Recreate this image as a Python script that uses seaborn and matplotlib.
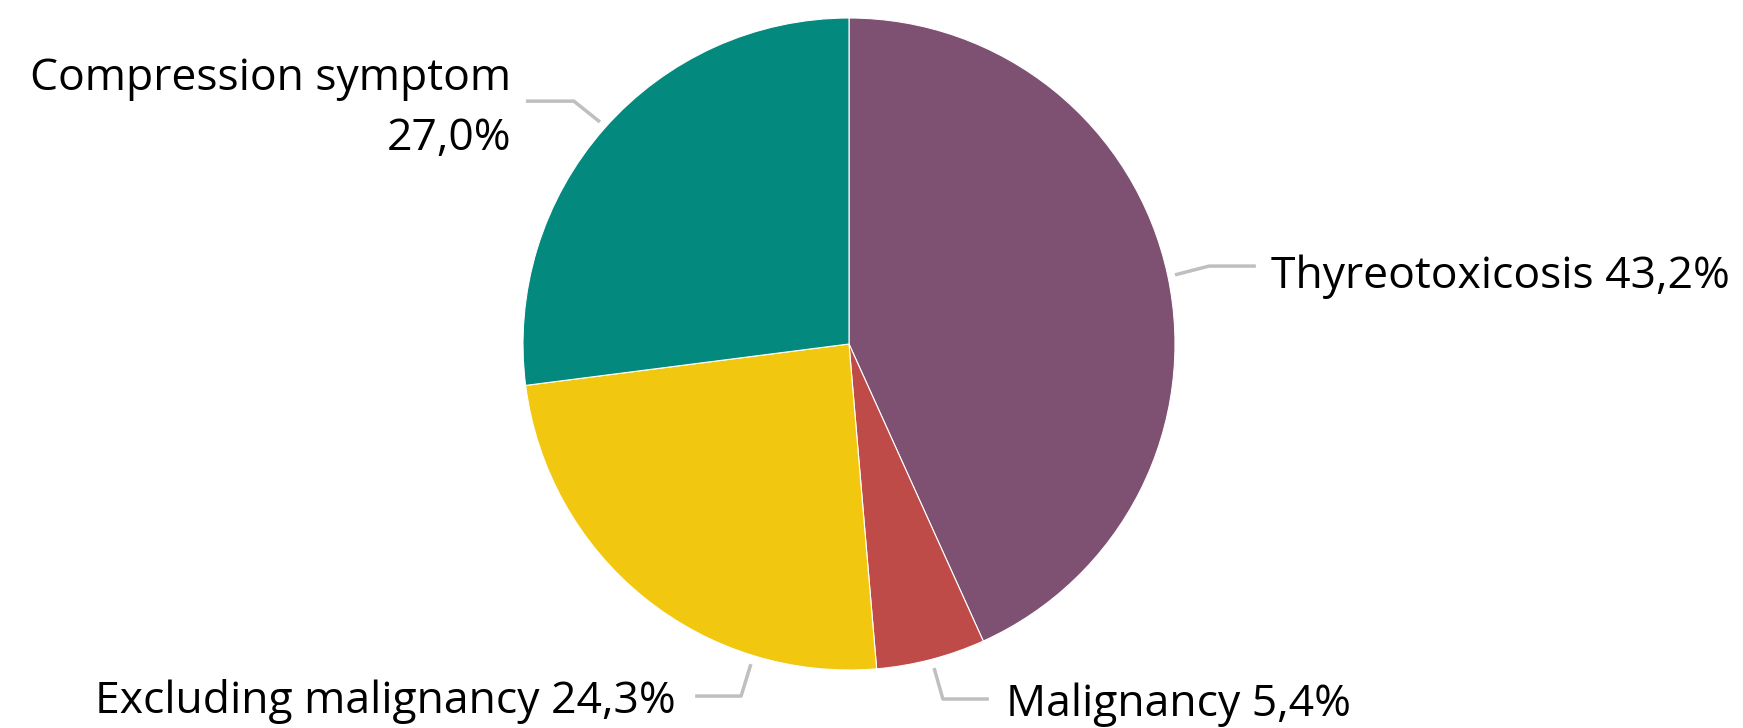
import matplotlib
matplotlib.use("Agg")
import matplotlib.pyplot as plt
import seaborn as sns

sns.set_style("white")
plt.rcParams['font.family'] = ['Open Sans', 'DejaVu Sans']

# data
categories = ['Thyreotoxicosis', 'Malignancy', 'Excluding malignancy', 'Compression symptom']
shares = [43.2, 5.4, 24.3, 27.0]
colors = ['#7E5071', '#BF4B48', '#F1C80F', '#03897E']

# label layout (data coords, pie radius = 1): leader line points, text anchor
leaders = {
    'Thyreotoxicosis': [(1.0, 0.212), (1.104, 0.239), (1.248, 0.239)],
    'Malignancy': [(0.261, -0.994), (0.288, -1.089), (0.429, -1.089)],
    'Excluding malignancy': [(-0.301, -0.982), (-0.331, -1.080), (-0.472, -1.080)],
    'Compression symptom': [(-0.764, 0.681), (-0.844, 0.745), (-0.991, 0.745)],
}
text_pos = {
    'Thyreotoxicosis': (1.294, 0.205, 'left'),
    'Malignancy': (0.481, -1.107, 'left'),
    'Excluding malignancy': (-0.531, -1.098, 'right'),
    'Compression symptom': (-1.037, 0.722, 'right'),
}

W, H = 1743, 728
cx, cy, R = 849, 344, 326
fig = plt.figure(figsize=(W / 100, H / 100), dpi=100)
ax = fig.add_axes([(cx - R) / W, (H - cy - R) / H, 2 * R / W, 2 * R / H])

ax.pie(shares, colors=colors, startangle=90, counterclock=False,
       wedgeprops=dict(edgecolor='white', linewidth=0.8), radius=1)
ax.set_xlim(-1, 1)
ax.set_ylim(-1, 1)
ax.set_aspect('equal')
ax.axis('off')

for cat, val in zip(categories, shares):
    pts = leaders[cat]
    ax.plot([p[0] for p in pts], [p[1] for p in pts], color='#BFBFBF',
            lw=2.5, clip_on=False, solid_capstyle='butt')
    tx, ty, ha = text_pos[cat]
    pct = f"{val:.1f}%".replace('.', ',')
    if cat == 'Compression symptom':
        label = f"{cat}\n{pct}"
    else:
        label = f"{cat} {pct}"
    ax.text(tx, ty, label, ha=ha, va='center', fontsize=32, color='black',
            multialignment='right', linespacing=1.45, clip_on=False)

fig.savefig('out.png', dpi=100)
